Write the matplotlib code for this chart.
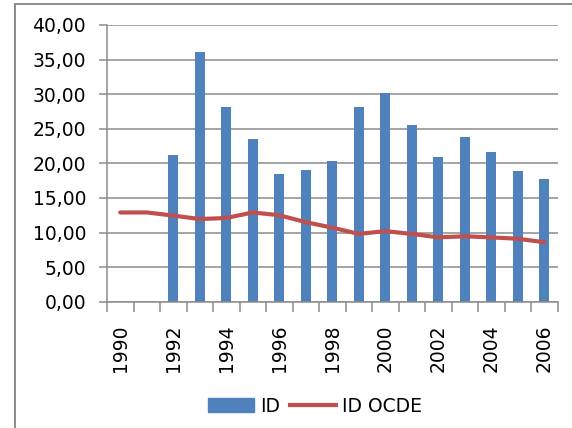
import numpy as np
import matplotlib.pyplot as plt
from matplotlib.patches import Patch
from matplotlib.lines import Line2D

# data
years = list(range(1990, 2007))
id_values = [np.nan, np.nan, 21.2, 36.1, 28.1, 23.5, 18.4, 19.1, 20.4,
             28.2, 30.2, 25.6, 20.9, 23.8, 21.7, 18.9, 17.8]
id_ocde = [12.9, 12.9, 12.45, 11.95, 12.1, 12.9, 12.5, 11.5, 10.7,
           9.8, 10.2, 9.8, 9.3, 9.45, 9.3, 9.1, 8.6]
y_ticks = [0, 5, 10, 15, 20, 25, 30, 35, 40]

bar_color = "#4F81BD"
line_color = "#C0504D"
grid_color = "#8C8C8C"
fsize = 13.5

fig = plt.figure(figsize=(5.72, 4.28), dpi=100)
ax = fig.add_axes([107 / 572, 1 - 301.7 / 428, 450.5 / 572, 276.7 / 428])

x = np.arange(len(years))
ax.bar(x, id_values, width=0.36, color=bar_color, zorder=2)
ax.plot(x, id_ocde, color=line_color, lw=3, solid_joinstyle="round",
        solid_capstyle="round", zorder=3)

ax.set_xlim(-0.5, len(years) - 0.5)
ax.set_ylim(0, 40)
ax.set_yticks(y_ticks)
ax.set_yticklabels([f"{v:.2f}".replace(".", ",") for v in y_ticks], fontsize=fsize)
ax.yaxis.grid(True, color=grid_color, lw=1.1, zorder=0)
ax.set_axisbelow(True)

# labels on every other year, tick marks on category boundaries
ax.set_xticks(x[::2])
ax.set_xticklabels([str(y) for y in years[::2]], rotation=90, fontsize=fsize)
ax.set_xticks(np.arange(-0.5, len(years)), minor=True)
ax.tick_params(axis="x", which="major", length=0, pad=16.5)
ax.tick_params(axis="x", which="minor", length=7, color=grid_color, width=1.1)
ax.tick_params(axis="y", length=6, color=grid_color, width=1.1, pad=9)

for s in ["top", "right"]:
    ax.spines[s].set_visible(False)
for s in ["left", "bottom"]:
    ax.spines[s].set_color(grid_color)
    ax.spines[s].set_linewidth(1.1)

handles = [Patch(color=bar_color), Line2D([], [], color=line_color, lw=3)]
fig.legend(handles, ["ID", "ID OCDE"], loc="center", ncol=2,
           bbox_to_anchor=(315 / 572, 1 - 406 / 428), frameon=False,
           fontsize=fsize, handlelength=2.45, handleheight=0.75,
           handletextpad=0.32, columnspacing=0.55, borderpad=0)

# outer chart frame (cut at right and bottom)
fig.add_artist(Line2D([14.5 / 572, 14.5 / 572], [0, 1 - 4 / 428],
                      color="#8C8C8C", lw=1.4))
fig.add_artist(Line2D([14.5 / 572, 1], [1 - 4 / 428, 1 - 4 / 428],
                      color="#8C8C8C", lw=1.4))

fig.savefig("out.png", dpi=100)
